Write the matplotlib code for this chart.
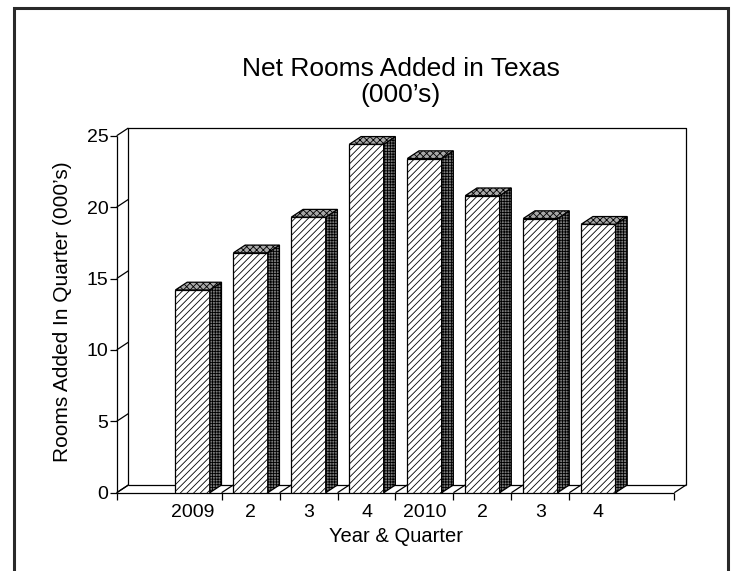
import matplotlib
matplotlib.use("Agg")
import matplotlib.pyplot as plt
from matplotlib.patches import Polygon, Rectangle
import numpy as np

# quarterly net rooms added (thousands)
quarters = ["2009", "2", "3", "4", "2010", "2", "3", "4"]
rooms_added = [14.2, 16.8, 19.3, 24.4, 23.4, 20.8, 19.2, 18.8]
y_ticks = [0, 5, 10, 15, 20, 25]

plt.rcParams["font.family"] = ["Liberation Sans", "DejaVu Sans"]
plt.rcParams["hatch.linewidth"] = 0.6

W, H = 731, 571
fig = plt.figure(figsize=(W / 100, H / 100), dpi=100)

# axes box in pixels (front plane)
left_px, right_px = 116.7, 674.3
bottom_px, top_px = 492.7, 135.7
ax = fig.add_axes([left_px / W, (H - bottom_px) / H,
                   (right_px - left_px) / W, (bottom_px - top_px) / H])

x = np.arange(len(quarters))
xmin, xmax = -1.31, len(quarters) - 1 + 1.31
ymin, ymax = 0, 25
ax.set_xlim(xmin, xmax)
ax.set_ylim(ymin, ymax)
for s in ax.spines.values():
    s.set_visible(False)

# depth offset of the 3D look, pixels -> data units
DX_PX, DY_PX = 11.7, 7.7
ddx = DX_PX * (xmax - xmin) / (right_px - left_px)
ddy = DY_PX * (ymax - ymin) / (bottom_px - top_px)

lw = 0.9
line_kw = dict(color="black", lw=lw, clip_on=False, solid_capstyle="butt")

# back wall and floor
ax.plot([xmin + ddx, xmin + ddx, xmax + ddx, xmax + ddx],
        [ymin + ddy, ymax + ddy, ymax + ddy, ymin + ddy], **line_kw)
ax.plot([xmin + ddx, xmax + ddx], [ymin + ddy, ymin + ddy], **line_kw)
ax.plot([xmin, xmax], [ymin, ymin], **line_kw)
ax.plot([xmin, xmin], [ymin, ymax], **line_kw)

# depth lines from each tick
x_major = [xmin] + list(x[:-1] + 0.5) + [xmax]
for xv in x_major:
    ax.plot([xv, xv + ddx], [ymin, ymin + ddy], **line_kw)
for yv in y_ticks:
    ax.plot([xmin, xmin + ddx], [yv, yv + ddy], **line_kw)

# bars: hatched front, textured side and top
bar_w = 0.592
ax.bar(x, rooms_added, width=bar_w, color="white", edgecolor="black",
       hatch="/////", linewidth=lw, zorder=3)
for xi, v in zip(x, rooms_added):
    x0, x1 = xi - bar_w / 2, xi + bar_w / 2
    side = Polygon([(x1, 0), (x1 + ddx, ddy), (x1 + ddx, v + ddy), (x1, v)],
                   closed=True, facecolor="#7a7a7a", edgecolor="black",
                   hatch="++++++", linewidth=lw, zorder=3, clip_on=False)
    top = Polygon([(x0, v), (x0 + ddx, v + ddy), (x1 + ddx, v + ddy), (x1, v)],
                  closed=True, facecolor="#a8a8a8", edgecolor="black",
                  hatch="xxxxx", linewidth=lw, zorder=3, clip_on=False)
    ax.add_patch(side)
    ax.add_patch(top)

# ticks
ax.set_yticks(y_ticks)
ax.set_yticklabels([str(t) for t in y_ticks])
ax.tick_params(axis="y", direction="out", length=5, width=lw, pad=1,
               labelsize=14)
ax.set_xticks(x_major)
ax.set_xticklabels([""] * len(x_major))
ax.set_xticks(x, minor=True)
ax.set_xticklabels(quarters, minor=True)
ax.tick_params(axis="x", which="major", direction="out", length=5, width=lw)
ax.tick_params(axis="x", which="minor", length=0, pad=8, labelsize=14)

# titles and axis labels
fig.text(401 / W, 1 - 69 / H, "Net Rooms Added in Texas", ha="center",
         va="center", fontsize=19)
fig.text(400 / W, 1 - 95 / H, "(000\u2019s)", ha="center", va="center",
         fontsize=19)
fig.text(396.5 / W, 1 - 537 / H, "Year & Quarter", ha="center", va="center",
         fontsize=14.5)
fig.text(63 / W, 1 - 312 / H, "Rooms Added In Quarter (000\u2019s)",
         ha="center", va="center", rotation=90, fontsize=15)

# outer frame
fig.add_artist(Rectangle((14 / W, -0.05), (728 - 14) / W, (H - 8) / H + 0.05,
                         transform=fig.transFigure, fill=False,
                         edgecolor="#2a2a2a", linewidth=2.2))

fig.savefig("out.png", dpi=100)
